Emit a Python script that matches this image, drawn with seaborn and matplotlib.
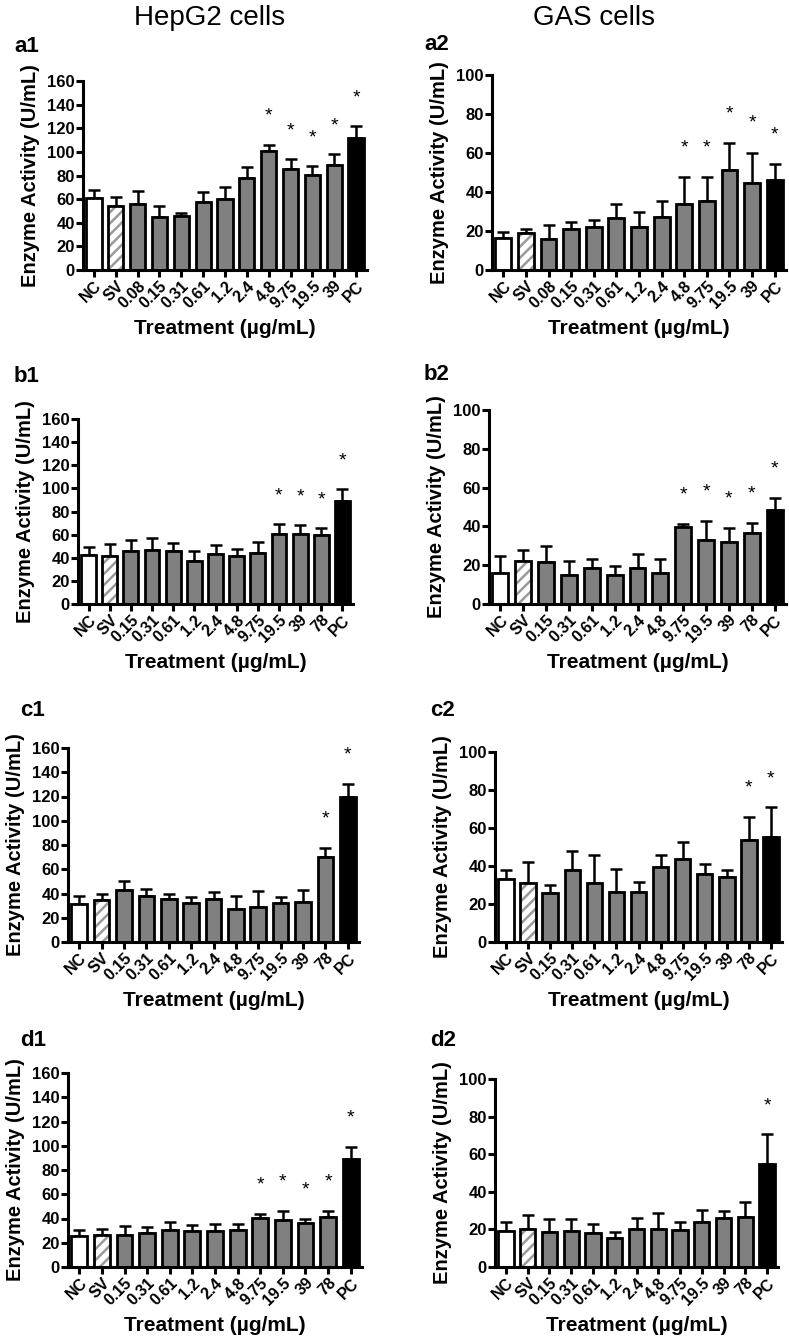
import matplotlib
matplotlib.use("Agg")
import matplotlib.pyplot as plt
import seaborn as sns
import pandas as pd
import numpy as np

# categories
cats_a1 = ["NC", "SV", "0.08", "0.15", "0.31", "0.61", "1.2", "2.4", "4.8", "9.75", "19.5", "39", "PC"]
cats = ["NC", "SV", "0.15", "0.31", "0.61", "1.2", "2.4", "4.8", "9.75", "19.5", "39", "78", "PC"]

# HepG2 cells
a1_mean = [61.1, 54.0, 55.8, 44.5, 46.0, 57.2, 60.0, 78.3, 100.8, 85.6, 80.3, 89.0, 111.8]
a1_err = [6.5, 7.7, 10.7, 9.5, 1.9, 9.0, 10.4, 8.5, 5.4, 8.5, 7.6, 9.0, 9.9]
a1_sig = ["4.8", "9.75", "19.5", "39", "PC"]

b1_mean = [42.2, 41.6, 45.6, 46.8, 45.6, 37.3, 43.6, 41.6, 43.9, 60.6, 60.6, 59.5, 89.5]
b1_err = [6.9, 10.4, 9.9, 10.1, 7.0, 8.9, 7.5, 5.8, 10.1, 8.4, 7.8, 6.6, 10.1]
b1_sig = ["19.5", "39", "78", "PC"]

c1_mean = [31.6, 34.4, 43.2, 37.7, 35.7, 31.9, 35.2, 27.5, 29.1, 32.2, 33.0, 69.8, 119.9]
c1_err = [6.3, 4.9, 7.1, 5.7, 4.2, 5.2, 6.0, 10.2, 12.7, 4.9, 10.2, 7.7, 10.7]
c1_sig = ["78", "PC"]

d1_mean = [25.3, 26.7, 26.1, 28.0, 30.5, 30.0, 30.0, 30.8, 40.1, 38.5, 36.0, 41.5, 89.3]
d1_err = [5.5, 4.9, 8.0, 5.3, 6.3, 4.4, 5.2, 4.9, 3.9, 7.4, 3.6, 5.0, 9.9]
d1_sig = ["9.75", "19.5", "39", "78", "PC"]

# GAS cells
a2_mean = [16.2, 19.1, 15.9, 20.9, 21.9, 26.5, 21.9, 27.0, 34.0, 35.2, 51.1, 44.8, 46.0]
a2_err = [3.5, 1.9, 7.3, 3.9, 3.6, 7.5, 7.7, 8.4, 13.5, 12.5, 13.9, 15.4, 8.4]
a2_sig = ["4.8", "9.75", "19.5", "39", "PC"]

b2_mean = [16.1, 22.0, 21.4, 14.9, 18.3, 14.9, 18.3, 16.2, 39.7, 32.8, 31.8, 36.4, 48.5]
b2_err = [8.9, 6.0, 8.6, 7.1, 5.1, 4.6, 7.4, 7.1, 1.7, 9.8, 7.3, 5.3, 6.2]
b2_sig = ["9.75", "19.5", "39", "78", "PC"]

c2_mean = [33.3, 31.2, 25.6, 37.7, 31.2, 26.3, 26.3, 39.5, 43.5, 35.8, 34.4, 53.9, 55.3]
c2_err = [4.8, 10.7, 4.6, 10.0, 14.4, 12.1, 5.3, 6.1, 9.3, 5.1, 3.5, 12.1, 15.7]
c2_sig = ["78", "PC"]

d2_mean = [19.0, 20.2, 18.4, 19.1, 18.3, 15.2, 20.2, 20.2, 19.7, 24.1, 26.1, 26.6, 55.0]
d2_err = [5.1, 7.5, 7.1, 6.4, 4.6, 3.2, 5.7, 8.3, 4.2, 6.0, 3.7, 7.8, 15.6]
d2_sig = ["PC"]

W, H = 789, 1339
sns.set_theme(style="ticks")
plt.rcParams["font.family"] = ["Liberation Sans", "DejaVu Sans"]
plt.rcParams["hatch.linewidth"] = 1.8
for k in ["text.color", "axes.labelcolor", "xtick.color", "ytick.color", "axes.edgecolor"]:
    plt.rcParams[k] = "black"

fig = plt.figure(figsize=(W / 100, H / 100), dpi=100)


def make_ax(left, right, top, bottom):
    return fig.add_axes([left / W, 1 - bottom / H, (right - left) / W, (bottom - top) / H])


def draw_panel(ax, labels, mean, err, sig, ymax, step, tag, tag_xy):
    df = pd.DataFrame({"treatment": labels, "activity": mean})
    colors = ["white", "white"] + ["#808080"] * (len(labels) - 3) + ["black"]
    sns.barplot(data=df, x="treatment", y="activity", hue="treatment",
                palette=colors, legend=False, width=0.7, saturation=1,
                edgecolor="black", linewidth=2, ax=ax, zorder=2)
    ax.errorbar(np.arange(len(labels)), mean, yerr=[np.zeros(len(labels)), err],
                fmt="none", ecolor="black", elinewidth=1.8, capsize=4.5,
                capthick=1.8, zorder=1)

    # SV bar is hatched
    sv = ax.patches[1]
    sv.set_hatch("///")
    sv.set_edgecolor("#9a9a9a")
    sv.set_linewidth(0)
    ax.add_patch(plt.Rectangle((sv.get_x(), sv.get_y()), sv.get_width(), sv.get_height(),
                               fill=False, edgecolor="black", linewidth=2, zorder=3))

    for lab in sig:
        i = labels.index(lab)
        ax.text(i, mean[i] + err[i] + 0.15 * ymax, "*", ha="center", va="center",
                fontsize=14)

    ax.set_xlim(-0.5, len(labels) - 0.5)
    ax.set_ylim(0, ymax)
    ax.set_yticks(range(0, ymax + 1, step))
    sns.despine(ax=ax)
    for s in ["left", "bottom"]:
        ax.spines[s].set_linewidth(2.2)
    ax.tick_params(axis="both", direction="out", length=5, width=2.2, pad=1)
    ax.set_xticks(range(len(labels)))
    ax.set_xticklabels(labels, rotation=45, ha="right", va="top",
                       rotation_mode="anchor", fontsize=11.5, fontweight="bold")
    for t in ax.get_yticklabels():
        t.set_fontsize(12)
        t.set_fontweight("bold")
    ax.set_ylabel("Enzyme Activity (U/mL)", fontsize=14.5, fontweight="bold", labelpad=5)
    ax.set_xlabel("Treatment (µg/mL)", fontsize=15, fontweight="bold", labelpad=6)
    fig.text(tag_xy[0] / W, 1 - tag_xy[1] / H, tag, fontsize=16, fontweight="bold",
             ha="left", va="center")


draw_panel(make_ax(83, 367, 81, 270), cats_a1, a1_mean, a1_err, a1_sig, 160, 20, "a1", (14, 46))
draw_panel(make_ax(492, 786, 75, 270), cats_a1, a2_mean, a2_err, a2_sig, 100, 20, "a2", (424, 44))
draw_panel(make_ax(78, 353, 419, 604), cats, b1_mean, b1_err, b1_sig, 160, 20, "b1", (14, 376))
draw_panel(make_ax(489, 786, 410, 604), cats, b2_mean, b2_err, b2_sig, 100, 20, "b2", (424, 374))
draw_panel(make_ax(68, 359, 748, 942), cats, c1_mean, c1_err, c1_sig, 160, 20, "c1", (20, 711))
draw_panel(make_ax(495, 782, 752, 942), cats, c2_mean, c2_err, c2_sig, 100, 20, "c2", (430, 711))
draw_panel(make_ax(68, 362, 1073, 1267), cats, d1_mean, d1_err, d1_sig, 160, 20, "d1", (20, 1040))
draw_panel(make_ax(495, 778, 1079, 1267), cats, d2_mean, d2_err, d2_sig, 100, 20, "d2", (430, 1040))

fig.text(210 / W, 1 - 18 / H, "HepG2 cells", fontsize=20, ha="center", va="center")
fig.text(594 / W, 1 - 18 / H, "GAS cells", fontsize=20, ha="center", va="center")

fig.savefig("out.png", dpi=100, facecolor="white")
